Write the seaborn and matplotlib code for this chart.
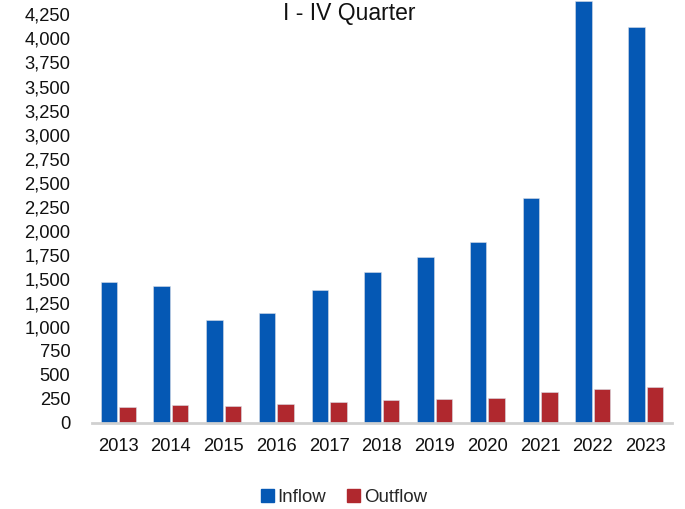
import numpy as np
import pandas as pd
import matplotlib
matplotlib.use("Agg")
import matplotlib.pyplot as plt
import seaborn as sns
from matplotlib.ticker import FuncFormatter

# values
years = ['2013', '2014', '2015', '2016', '2017', '2018', '2019', '2020', '2021', '2022', '2023']
inflow = [1465, 1430, 1075, 1145, 1380, 1570, 1730, 1885, 2345, 4385, 4120]
outflow = [163, 184, 174, 198, 215, 236, 247, 257, 326, 354, 372]
series = ['Inflow', 'Outflow']
colors = ['#0558B4', '#B0282E']

df = pd.DataFrame({'Year': years * 2,
                   'Value': inflow + outflow,
                   'Series': ['Inflow'] * len(years) + ['Outflow'] * len(years)})

sns.set_style('white')
plt.rcParams['font.family'] = ['Liberation Sans', 'DejaVu Sans']

fig = plt.figure(figsize=(6.85, 5.09), dpi=100)
ax = fig.add_axes([0.134, 0.169, 0.847, 0.831])

sns.barplot(data=df, x='Year', y='Value', hue='Series', hue_order=series,
            palette=colors, width=0.7, gap=0.1, saturation=1,
            edgecolor='#d8dde6', linewidth=0.4, ax=ax)

ax.set_xlim(-0.5, len(years) - 0.5)
ax.set_ylim(0, 4400)
ax.set_yticks(np.arange(0, 4251, 250))
ax.yaxis.set_major_formatter(FuncFormatter(lambda v, p: '{:,.0f}'.format(v)))
ax.set_xlabel('')
ax.set_ylabel('')
ax.tick_params(axis='both', length=0, labelsize=13.2, colors='#111111')
ax.tick_params(axis='y', pad=15.5)
ax.tick_params(axis='x', pad=11)

for side in ['top', 'right', 'left']:
    ax.spines[side].set_visible(False)
ax.spines['bottom'].set_color('#d0d0d0')
ax.spines['bottom'].set_linewidth(2)

ax.legend_.remove()
handles = [plt.Rectangle((0, 0), 1, 1, color=c) for c in colors]
fig.legend(handles, series, loc='center', bbox_to_anchor=(0.502, 0.022),
           ncol=2, frameon=False, fontsize=13.4, handlelength=0.7,
           handleheight=0.7, handletextpad=0.2, columnspacing=1.1)

fig.text(0.51, 0.974, 'I - IV Quarter', ha='center', va='center', fontsize=16.5,
         color='#111111')

plt.savefig('out.png', dpi=100)
